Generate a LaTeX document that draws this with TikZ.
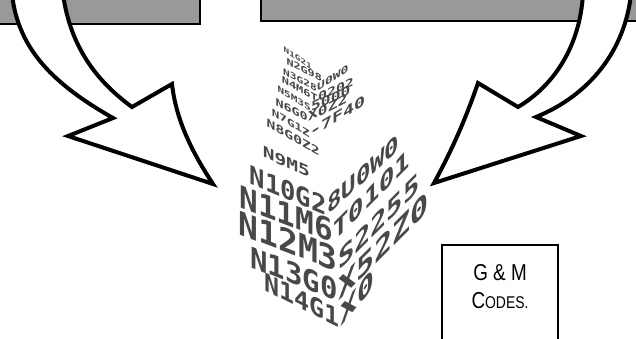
\documentclass[tikz,border=0pt]{standalone}
\usepackage{fontspec}
\newfontfamily\codefont{DejaVu Sans Mono}
\newfontfamily\widecode[FakeStretch=1.3]{DejaVu Sans Mono}
\newfontfamily\labelfont[FakeStretch=0.82]{Liberation Sans}
\definecolor{codegray}{RGB}{72,72,72}
\definecolor{bargray}{RGB}{153,153,153}

\begin{document}
\begin{tikzpicture}[x=1pt, y=-1pt,
    bar/.style={fill=bargray, draw=black, line width=1.5pt},
    bentarrow/.style={fill=white, draw=black, line width=4pt, line join=miter},
    gcode/.style={text=codegray, inner sep=0pt, font=\codefont\bfseries\fontsize{#1}{#1}\selectfont},
    smallcode/.style={text=codegray, inner sep=0pt, font=\widecode\bfseries\fontsize{#1}{#1}\selectfont},
    codebox/.style={fill=white, draw=black, line width=1.5pt}]
        \useasboundingbox (0,0) rectangle (636,338);
        \clip (0,0) rectangle (636,338);

        % Grey bars at the top
        \filldraw[bar] (-5,-5) rectangle (200,24);
        \filldraw[bar] (261,-5) rectangle (641,21);

        % Left arrow
        \filldraw[bentarrow] (12,-6) .. controls (18,50) and (55,85) .. (113,118) -- (68,136) -- (213,184)
            .. controls (192,152) and (176,120) .. (172,84) -- (132,107) .. controls (95,80) and (70,45) .. (63,-6) -- cycle;
        % Right arrow
        \filldraw[bentarrow] (631,-6) .. controls (625,50) and (590,95) .. (536,117) -- (581,136) -- (434,183)
            .. controls (452,150) and (466,118) .. (478,83) -- (518,107) .. controls (555,85) and (580,45) .. (583,-6) -- cycle;

        % Code lines, small ones
        \node[smallcode=7.2, anchor=base east, yslant=-0.65] (r1a) at (312,70) {N1G21};
        \node[smallcode=9, anchor=base east, yslant=-0.5] (r2a) at (322,82) {N2G98};
        \node[smallcode=8.6, anchor=base east, yslant=-0.52] (r3a) at (317,92) {N3G28};
        \node[smallcode=10, anchor=base west, yslant=0.65] (r3b) at (r3a.base east) {U0W0};
        \node[smallcode=9.2, anchor=base east, yslant=-0.53] (r4a) at (318,102) {N4M6T};
        \node[smallcode=11.4, anchor=base west, yslant=0.45] (r4b) at (r4a.base east) {0202};
        \node[smallcode=8.5, anchor=base east, yslant=-0.6] (r5a) at (311,112) {N5M3S};
        \node[smallcode=12.5, anchor=base west, yslant=0.45] (r5b) at (r5a.base east) {5000};
        \node[smallcode=10.3, anchor=base east, yslant=-0.5] (r6a) at (308,122) {N6G0};
        \node[smallcode=12.5, anchor=base west, yslant=0.5] (r6b) at (r6a.base east) {X0Z2};
        \node[smallcode=9.7, anchor=base east, yslant=-0.6] (r7a) at (310,138) {N7G1Z};
        \node[smallcode=14, anchor=base west, yslant=0.6] (r7b) at (r7a.base east) {-7F40};
        \node[smallcode=11.3, anchor=base east, yslant=-0.55] (r8a) at (320,156) {N8G0Z2};
        \node[smallcode=15, anchor=base east, yslant=-0.45] (r9a) at (310,178) {N9M5};

        % Code lines, big ones
        \node[gcode=25.6, anchor=base east, yslant=-0.42] (r10a) at (327,216) {N10G2};
        \node[gcode=24, anchor=base west, yslant=0.9] (r10b) at (r10a.base east) {8U0W0};
        \node[gcode=31, anchor=base east, yslant=-0.38] (r11a) at (333,243) {N11M6};
        \node[gcode=25.6, anchor=base west, yslant=1] (r11b) at (r11a.base east) {T0101};
        \node[gcode=33, anchor=base east, yslant=-0.38] (r12a) at (338,272) {N12M3};
        \node[gcode=27, anchor=base west, yslant=1] (r12b) at (r12a.base east) {S2255};
        \node[gcode=29, anchor=base east, yslant=-0.4] (r13a) at (338,302) {N13G0};
        \node[gcode=30, anchor=base west, yslant=1] (r13b) at (r13a.base east) {X52Z0};
        \node[gcode=25, anchor=base east, yslant=-0.5] (r14a) at (340,328) {N14G1};
        \node[gcode=28, anchor=base west, yslant=1.2] (r14b) at (r14a.base east) {X0};

        % Label box
        \filldraw[codebox] (442,245) rectangle (558,345);
        \node[anchor=base, inner sep=0pt, font=\labelfont\fontsize{23}{23}\selectfont] (gm) at (500,280) {G \& M};
        \node[anchor=base, inner sep=0pt, font=\labelfont\fontsize{23}{23}\selectfont] (codes) at (500,308) {C\fontsize{17}{17}\selectfont ODES.};

    \end{tikzpicture}
\end{document}
